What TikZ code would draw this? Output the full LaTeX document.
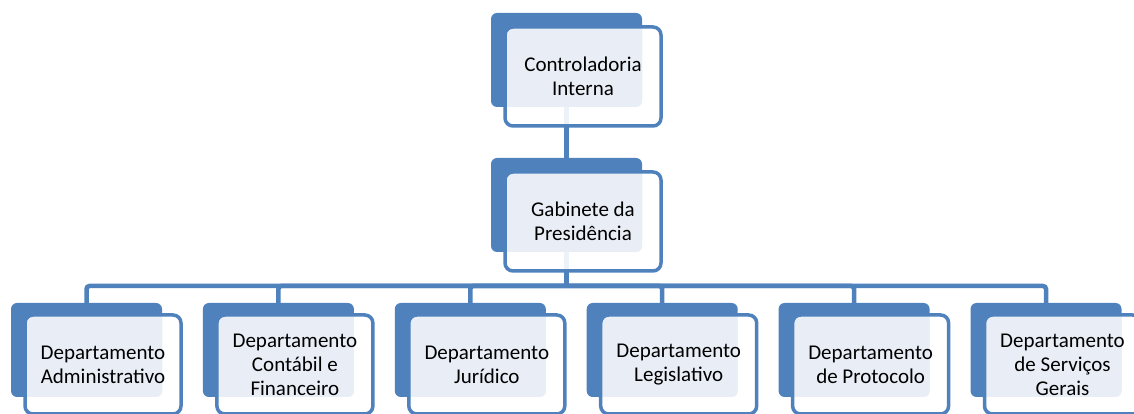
\documentclass[tikz,border=0pt]{standalone}
\usepackage{fontspec}
\setmainfont{Carlito}
\usetikzlibrary{backgrounds,calc}
\definecolor{accblue}{HTML}{4F81BD}
\definecolor{acclight}{HTML}{E9EEF6}
\begin{document}
\begin{tikzpicture}[x=1pt,y=1pt,
		backbox/.style={fill=accblue,rounded corners=6pt,minimum width=151pt,minimum height=94pt,inner sep=0pt,outer sep=0pt},
		frontbox/.style={draw=accblue,line width=3.5pt,fill=white,fill opacity=0.9,text opacity=1,rounded corners=8pt,
			minimum width=156pt,minimum height=99pt,inner sep=0pt,align=center,font=\fontsize{21}{24}\selectfont,
			path picture={\fill[acclight,fill opacity=1,rounded corners=6pt] (#1.north west) rectangle (#1.south east);}},
		link/.style={accblue,line width=4.5pt,rounded corners=3pt}]
		\clip (0,0) rectangle (1134,414);
		%top
		\node[backbox] (ctrl) at (566.5,354) {};
		\node[frontbox=ctrl] (ctrl-f) at ($(ctrl)+(16.5,-16.5)$) {Controladoria\\Interna};
		\node[backbox] (gab) at (566.5,209) {};
		\node[frontbox=gab] (gab-f) at ($(gab)+(16.5,-16.5)$) {Gabinete da\\Presidência};
		%departments
		\foreach \i/\txt in {1/{Departamento\\Administrativo},2/{Departamento\\Contábil e\\Financeiro},3/{Departamento\\Jurídico},
			4/{Departamento\\Legislativo},5/{Departamento\\de Protocolo},6/{Departamento\\de Serviços\\Gerais}}{
			\node[backbox] (d\i) at ({86.5+(\i-1)*191.9},64) {};
			\node[frontbox=d\i] (d\i-f) at ($(d\i)+(16.5,-14.5)$) {\txt};
		}
		\begin{scope}[on background layer]
		\draw[link] (ctrl.south) -- (gab.north);
		\coordinate (bus) at (566.5,128);
		\draw[link] (gab.south) -- (bus);
		\foreach \i in {1,...,6} \draw[link] (bus) -| (d\i.north);
		\end{scope}
\end{tikzpicture}
\end{document}
